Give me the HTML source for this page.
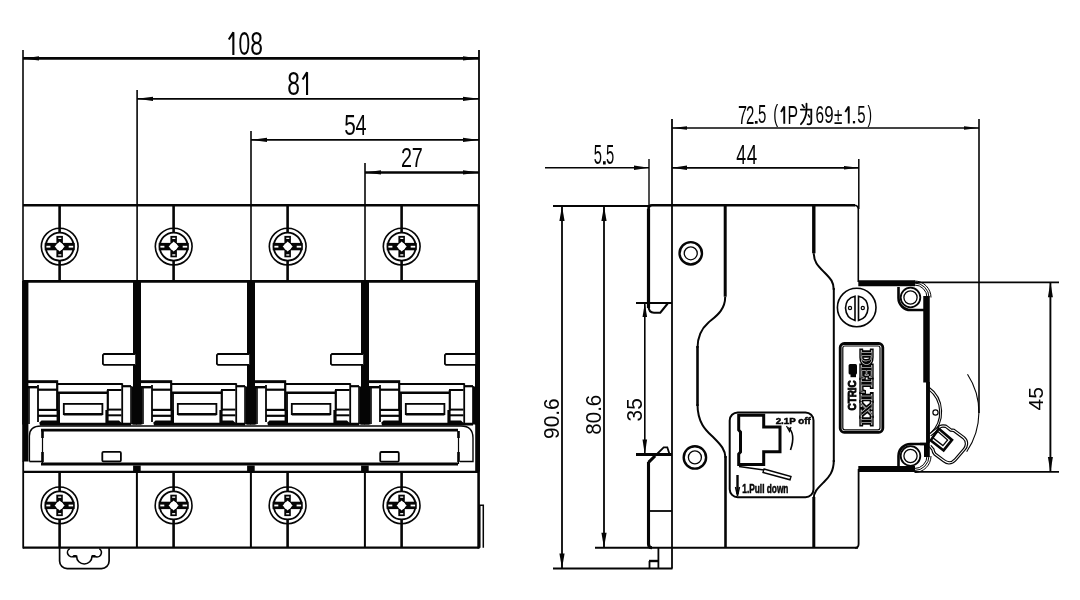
<!DOCTYPE html>
<html><head><meta charset="utf-8"><style>
html,body{margin:0;padding:0;background:#fff;overflow:hidden}
svg{display:block}
#dr{filter:grayscale(1)}

</style></head><body>
<svg id="dr" font-family="Liberation Sans" width="1080" height="600" viewBox="0 0 1080 600">
<rect width="1080" height="600" fill="#fff"/>
<g stroke="#080404" fill="none"><line x1="23" y1="50" x2="23" y2="205" stroke-width="1.6"/><line x1="479" y1="50" x2="479" y2="205" stroke-width="1.8"/><line x1="137.1" y1="90" x2="137.1" y2="205" stroke-width="1.6"/><line x1="251" y1="131" x2="251" y2="205" stroke-width="1.6"/><line x1="365" y1="163" x2="365" y2="205" stroke-width="1.6"/><line x1="23" y1="58.4" x2="479" y2="58.4" stroke-width="2.6"/><line x1="137" y1="98.8" x2="479" y2="98.8" stroke-width="1.7"/><line x1="251" y1="139.9" x2="479" y2="139.9" stroke-width="1.8"/><line x1="365" y1="172.4" x2="479" y2="172.4" stroke-width="2.5"/></g><g fill="#080404"><path d="M23,58.4 L39,56.3 L39,60.5 Z" fill="#080404"/><path d="M479,58.4 L463,56.3 L463,60.5 Z" fill="#080404"/><path d="M137,98.8 L153,96.7 L153,100.89999999999999 Z" fill="#080404"/><path d="M479,98.8 L463,96.7 L463,100.89999999999999 Z" fill="#080404"/><path d="M251,139.9 L267,137.8 L267,142.0 Z" fill="#080404"/><path d="M479,139.9 L463,137.8 L463,142.0 Z" fill="#080404"/><path d="M365,172.4 L381,170.3 L381,174.5 Z" fill="#080404"/><path d="M479,172.4 L463,170.3 L463,174.5 Z" fill="#080404"/></g><g fill="#080404" font-family="Liberation Sans, sans-serif"><path d="M233.35,54.90 L233.35,32.30 L228.80,39.56" fill="none" stroke="#080404" stroke-width="2.1" stroke-linejoin="bevel"/><text transform="translate(238.48,54.58) scale(0.6384,1)" font-size="32.77">0</text><text transform="translate(250.31,54.58) scale(0.6959,1)" font-size="32.77">8</text><text transform="translate(287.31,94.58) scale(0.7019,1)" font-size="32.49">8</text><path d="M307.05,94.90 L307.05,72.30 L302.60,79.56" fill="none" stroke="#080404" stroke-width="2.1" stroke-linejoin="bevel"/><text transform="translate(344.37,134.62) scale(0.7105,1)" font-size="29.09">5</text><text transform="translate(355.54,134.90) scale(0.6596,1)" font-size="30.09">4</text><text transform="translate(401.01,167.20) scale(0.7147,1)" font-size="27.64">2</text><text transform="translate(411.68,167.20) scale(0.7323,1)" font-size="27.04">7</text><text transform="translate(593.66,164.22) scale(0.5216,1)" font-size="28.31">5</text><rect x="603" y="161.2" width="2.7000000000000455" height="3.3000000000000114" fill="#080404"/><text transform="translate(605.91,164.22) scale(0.5216,1)" font-size="28.31">5</text><text transform="translate(736.34,164.00) scale(0.6383,1)" font-size="27.98">4</text><text transform="translate(746.82,164.00) scale(0.6738,1)" font-size="27.98">4</text><text transform="translate(738.07,123.70) scale(0.6400,1)" font-size="25.44">7</text><text transform="translate(745.95,123.70) scale(0.5956,1)" font-size="25.06">2</text><rect x="754.9" y="121" width="2.7000000000000455" height="2.700000000000003" fill="#080404"/><text transform="translate(758.10,123.46) scale(0.5971,1)" font-size="25.08">5</text><text transform="translate(773.29,122.48) scale(0.6315,1)" font-size="23.29">(</text><path d="M784.25,123.70 L784.25,106.60 L781.00,112.04" fill="none" stroke="#080404" stroke-width="1.9" stroke-linejoin="bevel"/><text transform="translate(787.51,123.70) scale(0.6205,1)" font-size="25.44">P</text><text transform="translate(815.42,123.16) scale(0.6371,1)" font-size="24.15">6</text><text transform="translate(824.31,123.16) scale(0.6992,1)" font-size="24.15">9</text><text transform="translate(833.92,123.70) scale(0.6522,1)" font-size="23.35">±</text><path d="M848.75,123.40 L848.75,106.60 L845.30,111.94" fill="none" stroke="#080404" stroke-width="1.9" stroke-linejoin="bevel"/><rect x="852.9" y="121" width="2.2000000000000455" height="2.4000000000000057" fill="#080404"/><text transform="translate(857.30,123.16) scale(0.6110,1)" font-size="24.51">5</text><text transform="translate(867.42,122.48) scale(0.5829,1)" font-size="23.29">)</text><text transform="translate(558.59,438.88) rotate(-90) scale(0.9715,1)" font-size="21.47">90.6</text><text transform="translate(600.89,434.69) rotate(-90) scale(0.9387,1)" font-size="21.89">80.6</text><text transform="translate(641.68,421.39) rotate(-90) scale(0.9232,1)" font-size="22.46">35</text><text transform="translate(1042.70,410.48) rotate(-90) scale(1.0084,1)" font-size="20.92">45</text></g><g stroke="#080404" fill="none" stroke-linecap="round"><path d="M802.3,104.8 L804.2,107.4" stroke-width="1.7"/><path d="M800.8,109.6 L811.3,109.6 L811.3,121.8 Q811.3,124.3 808.8,124.3 L807.5,124.1" stroke-width="1.8"/><path d="M806.5,103.6 L806.5,110 Q806.2,118.5 800.9,124.2" stroke-width="1.8"/><path d="M808.3,114.8 L809.6,117" stroke-width="1.5"/></g><g stroke="#080404" fill="none"><line x1="23" y1="205.3" x2="479" y2="205.3" stroke-width="2.6"/><line x1="23" y1="281.4" x2="479" y2="281.4" stroke-width="2.8"/><line x1="23" y1="205" x2="23" y2="281.4" stroke-width="1.6"/><line x1="478.7" y1="205" x2="478.7" y2="281.4" stroke-width="2.6"/><line x1="137.1" y1="205" x2="137.1" y2="281.4" stroke-width="1.6"/><line x1="251" y1="205" x2="251" y2="281.4" stroke-width="1.6"/><line x1="365" y1="205" x2="365" y2="281.4" stroke-width="1.6"/></g><g stroke="#080404" fill="none"><line x1="59.6" y1="205" x2="59.6" y2="232.6" stroke-width="2.6"/><line x1="59.6" y1="260.6" x2="59.6" y2="281" stroke-width="2.6"/></g><g transform="translate(59.7,246.6)"><circle r="18.4" fill="none" stroke="#080404" stroke-width="1.6"/><circle r="14" fill="none" stroke="#080404" stroke-width="1.8"/><rect x="-3.3" y="-10.7" width="6.5" height="21.4" fill="#080404"/><rect x="-15" y="-3.7" width="30" height="7.4" fill="#080404"/><rect x="-1.4" y="-8.9" width="3" height="1.3" fill="#fff"/><rect x="-1.4" y="7.7" width="3" height="1.3" fill="#fff"/><rect x="-13.3" y="-0.8" width="4" height="1.8" fill="#fff"/><rect x="9" y="-0.8" width="4.5" height="1.8" fill="#fff"/><path d="M0,-5 L2,-3 L3,-2 L5,0 L3,2 L2,3 L0,5 L-2,3 L-3,2 L-5,0 L-3,-2 L-2,-3 Z" fill="#fff"/><circle r="3.6" fill="#fff"/></g><g stroke="#080404" fill="none"><line x1="59.6" y1="471.5" x2="59.6" y2="491.4" stroke-width="2.6"/><line x1="59.6" y1="519.4" x2="59.6" y2="548" stroke-width="2.6"/></g><g transform="translate(59.6,505.4)"><circle r="18.4" fill="none" stroke="#080404" stroke-width="1.6"/><circle r="14" fill="none" stroke="#080404" stroke-width="1.8"/><rect x="-3.3" y="-10.7" width="6.5" height="21.4" fill="#080404"/><rect x="-15" y="-3.7" width="30" height="7.4" fill="#080404"/><rect x="-1.4" y="-8.9" width="3" height="1.3" fill="#fff"/><rect x="-1.4" y="7.7" width="3" height="1.3" fill="#fff"/><rect x="-13.3" y="-0.8" width="4" height="1.8" fill="#fff"/><rect x="9" y="-0.8" width="4.5" height="1.8" fill="#fff"/><path d="M0,-5 L2,-3 L3,-2 L5,0 L3,2 L2,3 L0,5 L-2,3 L-3,2 L-5,0 L-3,-2 L-2,-3 Z" fill="#fff"/><circle r="3.6" fill="#fff"/></g><g stroke="#080404" fill="none"><line x1="173.6" y1="205" x2="173.6" y2="232.6" stroke-width="2.6"/><line x1="173.6" y1="260.6" x2="173.6" y2="281" stroke-width="2.6"/></g><g transform="translate(173.7,246.6)"><circle r="18.4" fill="none" stroke="#080404" stroke-width="1.6"/><circle r="14" fill="none" stroke="#080404" stroke-width="1.8"/><rect x="-3.3" y="-10.7" width="6.5" height="21.4" fill="#080404"/><rect x="-15" y="-3.7" width="30" height="7.4" fill="#080404"/><rect x="-1.4" y="-8.9" width="3" height="1.3" fill="#fff"/><rect x="-1.4" y="7.7" width="3" height="1.3" fill="#fff"/><rect x="-13.3" y="-0.8" width="4" height="1.8" fill="#fff"/><rect x="9" y="-0.8" width="4.5" height="1.8" fill="#fff"/><path d="M0,-5 L2,-3 L3,-2 L5,0 L3,2 L2,3 L0,5 L-2,3 L-3,2 L-5,0 L-3,-2 L-2,-3 Z" fill="#fff"/><circle r="3.6" fill="#fff"/></g><g stroke="#080404" fill="none"><line x1="173.6" y1="471.5" x2="173.6" y2="491.4" stroke-width="2.6"/><line x1="173.6" y1="519.4" x2="173.6" y2="548" stroke-width="2.6"/></g><g transform="translate(173.6,505.4)"><circle r="18.4" fill="none" stroke="#080404" stroke-width="1.6"/><circle r="14" fill="none" stroke="#080404" stroke-width="1.8"/><rect x="-3.3" y="-10.7" width="6.5" height="21.4" fill="#080404"/><rect x="-15" y="-3.7" width="30" height="7.4" fill="#080404"/><rect x="-1.4" y="-8.9" width="3" height="1.3" fill="#fff"/><rect x="-1.4" y="7.7" width="3" height="1.3" fill="#fff"/><rect x="-13.3" y="-0.8" width="4" height="1.8" fill="#fff"/><rect x="9" y="-0.8" width="4.5" height="1.8" fill="#fff"/><path d="M0,-5 L2,-3 L3,-2 L5,0 L3,2 L2,3 L0,5 L-2,3 L-3,2 L-5,0 L-3,-2 L-2,-3 Z" fill="#fff"/><circle r="3.6" fill="#fff"/></g><g stroke="#080404" fill="none"><line x1="287.6" y1="205" x2="287.6" y2="232.6" stroke-width="2.6"/><line x1="287.6" y1="260.6" x2="287.6" y2="281" stroke-width="2.6"/></g><g transform="translate(287.7,246.6)"><circle r="18.4" fill="none" stroke="#080404" stroke-width="1.6"/><circle r="14" fill="none" stroke="#080404" stroke-width="1.8"/><rect x="-3.3" y="-10.7" width="6.5" height="21.4" fill="#080404"/><rect x="-15" y="-3.7" width="30" height="7.4" fill="#080404"/><rect x="-1.4" y="-8.9" width="3" height="1.3" fill="#fff"/><rect x="-1.4" y="7.7" width="3" height="1.3" fill="#fff"/><rect x="-13.3" y="-0.8" width="4" height="1.8" fill="#fff"/><rect x="9" y="-0.8" width="4.5" height="1.8" fill="#fff"/><path d="M0,-5 L2,-3 L3,-2 L5,0 L3,2 L2,3 L0,5 L-2,3 L-3,2 L-5,0 L-3,-2 L-2,-3 Z" fill="#fff"/><circle r="3.6" fill="#fff"/></g><g stroke="#080404" fill="none"><line x1="287.6" y1="471.5" x2="287.6" y2="491.4" stroke-width="2.6"/><line x1="287.6" y1="519.4" x2="287.6" y2="548" stroke-width="2.6"/></g><g transform="translate(287.6,505.4)"><circle r="18.4" fill="none" stroke="#080404" stroke-width="1.6"/><circle r="14" fill="none" stroke="#080404" stroke-width="1.8"/><rect x="-3.3" y="-10.7" width="6.5" height="21.4" fill="#080404"/><rect x="-15" y="-3.7" width="30" height="7.4" fill="#080404"/><rect x="-1.4" y="-8.9" width="3" height="1.3" fill="#fff"/><rect x="-1.4" y="7.7" width="3" height="1.3" fill="#fff"/><rect x="-13.3" y="-0.8" width="4" height="1.8" fill="#fff"/><rect x="9" y="-0.8" width="4.5" height="1.8" fill="#fff"/><path d="M0,-5 L2,-3 L3,-2 L5,0 L3,2 L2,3 L0,5 L-2,3 L-3,2 L-5,0 L-3,-2 L-2,-3 Z" fill="#fff"/><circle r="3.6" fill="#fff"/></g><g stroke="#080404" fill="none"><line x1="401.6" y1="205" x2="401.6" y2="232.6" stroke-width="2.6"/><line x1="401.6" y1="260.6" x2="401.6" y2="281" stroke-width="2.6"/></g><g transform="translate(401.7,246.6)"><circle r="18.4" fill="none" stroke="#080404" stroke-width="1.6"/><circle r="14" fill="none" stroke="#080404" stroke-width="1.8"/><rect x="-3.3" y="-10.7" width="6.5" height="21.4" fill="#080404"/><rect x="-15" y="-3.7" width="30" height="7.4" fill="#080404"/><rect x="-1.4" y="-8.9" width="3" height="1.3" fill="#fff"/><rect x="-1.4" y="7.7" width="3" height="1.3" fill="#fff"/><rect x="-13.3" y="-0.8" width="4" height="1.8" fill="#fff"/><rect x="9" y="-0.8" width="4.5" height="1.8" fill="#fff"/><path d="M0,-5 L2,-3 L3,-2 L5,0 L3,2 L2,3 L0,5 L-2,3 L-3,2 L-5,0 L-3,-2 L-2,-3 Z" fill="#fff"/><circle r="3.6" fill="#fff"/></g><g stroke="#080404" fill="none"><line x1="401.6" y1="471.5" x2="401.6" y2="491.4" stroke-width="2.6"/><line x1="401.6" y1="519.4" x2="401.6" y2="548" stroke-width="2.6"/></g><g transform="translate(401.6,505.4)"><circle r="18.4" fill="none" stroke="#080404" stroke-width="1.6"/><circle r="14" fill="none" stroke="#080404" stroke-width="1.8"/><rect x="-3.3" y="-10.7" width="6.5" height="21.4" fill="#080404"/><rect x="-15" y="-3.7" width="30" height="7.4" fill="#080404"/><rect x="-1.4" y="-8.9" width="3" height="1.3" fill="#fff"/><rect x="-1.4" y="7.7" width="3" height="1.3" fill="#fff"/><rect x="-13.3" y="-0.8" width="4" height="1.8" fill="#fff"/><rect x="9" y="-0.8" width="4.5" height="1.8" fill="#fff"/><path d="M0,-5 L2,-3 L3,-2 L5,0 L3,2 L2,3 L0,5 L-2,3 L-3,2 L-5,0 L-3,-2 L-2,-3 Z" fill="#fff"/><circle r="3.6" fill="#fff"/></g><g id="pole"><g stroke="#080404" fill="none"><rect x="22.2" y="281" width="4.8" height="143.5" fill="#080404" stroke="none"/><rect x="133" y="281" width="4" height="143.5" fill="#080404" stroke="none"/><path d="M135.2,354 L104,354 L102.9,355.1 L102.9,363.8 L104,364.9 L135.2,364.9" fill="#fff" stroke-width="1.8"/><rect x="27" y="380.2" width="31.2" height="2.9" fill="#080404" stroke="none"/><line x1="58" y1="384" x2="122.2" y2="384" stroke-width="1.8"/><line x1="122.2" y1="383.2" x2="122.2" y2="424" stroke-width="1.8"/><line x1="27" y1="387.2" x2="37.5" y2="387.2" stroke-width="2.4"/><line x1="122.2" y1="386.2" x2="131" y2="386.2" stroke-width="2.2"/><line x1="29" y1="387" x2="29" y2="424" stroke-width="1.6"/><line x1="131" y1="386" x2="131" y2="424" stroke-width="1.6"/><line x1="38" y1="385" x2="38" y2="422" stroke-width="1.8"/><line x1="57.2" y1="383" x2="57.2" y2="410" stroke-width="2.2"/><line x1="38" y1="389.7" x2="57" y2="389.7" stroke-width="2.2"/><line x1="38" y1="409.9" x2="57" y2="409.9" stroke-width="2.2"/><line x1="38" y1="415.8" x2="57" y2="415.8" stroke-width="2.2"/><path d="M58.3,410 L58.3,423" stroke-width="3.4"/><line x1="58" y1="392.7" x2="108" y2="392.7" stroke-width="2.6"/><line x1="59" y1="392.7" x2="59" y2="410.5" stroke-width="1.8"/><rect x="63.8" y="403.9" width="38.6" height="10.2" stroke-width="1.8"/><line x1="63.8" y1="414.3" x2="102.4" y2="414.3" stroke-width="2.4"/><line x1="107.8" y1="390" x2="107.8" y2="410.5" stroke-width="2.2"/><line x1="107" y1="390" x2="121.5" y2="390" stroke-width="2"/><line x1="108" y1="409.6" x2="121.5" y2="409.6" stroke-width="2"/><line x1="108" y1="415.3" x2="121.5" y2="415.3" stroke-width="2"/><path d="M107,410 L107,423" stroke-width="3.2"/><line x1="40" y1="424.1" x2="131" y2="424.1" stroke-width="2.8"/><path d="M39.5,424.5 L39.5,422.5 L41.5,420.6 L60,420.6 L60,424.5 Z" fill="#080404" stroke="none"/><path d="M106,424.5 L106,420.6 L119,420.6 L121.5,423 L121.5,424.5 Z" fill="#080404" stroke="none"/></g></g><use href="#pole" x="114" y="0"/><use href="#pole" x="228" y="0"/><use href="#pole" x="342" y="0"/><rect x="475.2" y="281" width="4.8" height="190.5" fill="#080404"/><rect x="22.2" y="281" width="6.2" height="180.5" fill="#080404"/><rect x="131.4" y="386.5" width="11" height="38" fill="#080404"/><rect x="245.4" y="386.5" width="11" height="38" fill="#080404"/><rect x="359.4" y="386.5" width="11" height="38" fill="#080404"/><rect x="472.8" y="386.5" width="7.2" height="38" fill="#080404"/><g stroke="#080404" fill="none"><path d="M29.4,461.5 L29.4,436 Q29.4,426 41,426 L461,426 Q473,426 473,438 L473,461.5 L460,461.5" stroke-width="1.4"/><path d="M29.4,461.5 L42,461.5" stroke-width="1.6"/><line x1="41" y1="430.2" x2="458" y2="430.2" stroke-width="2.8"/><line x1="41" y1="464" x2="458" y2="464" stroke-width="2.8"/><path d="M42.5,431 L42.5,464" stroke-width="1.2"/><path d="M42.5,431 L42.5,438 M42.5,452 L42.5,462" stroke-width="2.6"/><path d="M458.5,431 L458.5,464" stroke-width="1.2"/><path d="M458.5,431 L458.5,438 M458.5,452 L458.5,462" stroke-width="2.6"/><rect x="102.3" y="451.8" width="18.6" height="9.6" rx="1.2" stroke-width="1.8"/><rect x="380.2" y="452" width="18.6" height="9.6" rx="1.2" stroke-width="1.8"/></g><g stroke="#080404" fill="none"><line x1="23" y1="471.8" x2="479" y2="471.8" stroke-width="2.2"/><line x1="23" y1="547.7" x2="479" y2="547.7" stroke-width="2.2"/><line x1="23.2" y1="461" x2="23.2" y2="548.5" stroke-width="1.8"/><line x1="478.6" y1="461" x2="478.6" y2="548.5" stroke-width="2.6"/><line x1="136.9" y1="471" x2="136.9" y2="548" stroke-width="2"/><rect x="133.1" y="465.5" width="7.6" height="6" fill="#080404" stroke="none"/><line x1="250.9" y1="471" x2="250.9" y2="548" stroke-width="2"/><rect x="247.1" y="465.5" width="7.6" height="6" fill="#080404" stroke="none"/><line x1="364.9" y1="471" x2="364.9" y2="548" stroke-width="2"/><rect x="361.09999999999997" y="465.5" width="7.6" height="6" fill="#080404" stroke="none"/><path d="M479.8,547.7 L479.8,505.2 L483.3,505.2 L483.3,547.7" stroke-width="1.5"/><path d="M59.6,548 L59.6,561 A7.6,7.6 0 0 0 67.2,568.6 L101.5,568.6 A7.6,7.6 0 0 0 109.1,561 L109.1,548" stroke-width="1.7"/><path d="M69.8,548.6 A4,4 0 0 0 73.8,556.3 L76.6,556.3 A7.6,7.6 0 0 0 92,556.3 L94.6,556.3 A4,4 0 0 0 99.3,548.6" stroke-width="1.6"/><path d="M73.3,556.3 L76.6,556.3 M92,556.3 L95.3,556.3" stroke-width="2.6"/></g><g stroke="#080404" fill="none"><line x1="545" y1="167.8" x2="649" y2="167.8" stroke-width="1.6"/><line x1="649" y1="159" x2="649" y2="205" stroke-width="1.4"/><line x1="672" y1="119" x2="672" y2="568.5" stroke-width="1.8"/><line x1="672" y1="128" x2="979" y2="128" stroke-width="1.5"/><line x1="979" y1="119" x2="979" y2="413" stroke-width="1.6"/><line x1="672" y1="167.8" x2="859" y2="167.8" stroke-width="1.7"/><line x1="858.8" y1="159" x2="858.8" y2="209" stroke-width="1.5"/><line x1="553" y1="206" x2="649" y2="206" stroke-width="1.8"/><line x1="562" y1="206" x2="562" y2="568.6" stroke-width="1.8"/><line x1="604" y1="206" x2="604" y2="547.8" stroke-width="1.8"/><line x1="595" y1="547.8" x2="858" y2="547.8" stroke-width="2"/><line x1="553" y1="568.6" x2="672.5" y2="568.6" stroke-width="2"/><line x1="636" y1="303" x2="672" y2="303" stroke-width="1.8"/><line x1="644.8" y1="303" x2="644.8" y2="454.5" stroke-width="1.6"/><line x1="636" y1="454.5" x2="672" y2="454.5" stroke-width="2.8"/><line x1="1050.4" y1="282.3" x2="1050.4" y2="472" stroke-width="1.9"/><line x1="915" y1="282.3" x2="1059" y2="282.3" stroke-width="1.8"/><line x1="915" y1="471.8" x2="1059" y2="471.8" stroke-width="1.8"/></g><g fill="#080404"><path d="M649,167.8 L634,165.60000000000002 L634,170.0 Z" fill="#080404"/><path d="M672,167.8 L687,165.60000000000002 L687,170.0 Z" fill="#080404"/><path d="M672,128 L687,126.2 L687,129.8 Z" fill="#080404"/><path d="M979,128 L964,126.2 L964,129.8 Z" fill="#080404"/><path d="M859,167.8 L844,166.0 L844,169.60000000000002 Z" fill="#080404"/><path d="M562,206 L559.4,221 L564.6,221 Z" fill="#080404"/><path d="M604,206 L601.4,221 L606.6,221 Z" fill="#080404"/><path d="M562,568.6 L559.4,553.6 L564.6,553.6 Z" fill="#080404"/><path d="M604,547.8 L601.4,532.8 L606.6,532.8 Z" fill="#080404"/><path d="M644.8,303 L642.5,317 L647.0999999999999,317 Z" fill="#080404"/><path d="M644.8,454.5 L642.5,439.5 L647.0999999999999,439.5 Z" fill="#080404"/><path d="M1050.4,282.3 L1047.9,297.3 L1052.9,297.3 Z" fill="#080404"/><path d="M1050.4,472 L1047.9,457 L1052.9,457 Z" fill="#080404"/></g><g stroke="#080404" fill="none"><path d="M648.5,308 L648.5,209 Q648.5,205.3 652,205.3 L855,205.3" stroke-width="2.6"/><path d="M648.5,308 L648.5,209" stroke-width="3.2"/><path d="M854,205.3 Q858.3,205.3 858.3,209.5 L858.3,282" stroke-width="1.6"/><path d="M648.5,306 Q648.5,312.7 654,312.7 L660.3,312.7 L667.7,303.5" stroke-width="2"/><path d="M648.5,462.3 L655,456 M648.5,462 L648.5,544 Q648.5,547.8 652,547.8" stroke-width="3.1"/><path d="M655,456 L663.7,447.3 L667.3,447.3 L669.3,453.5" stroke-width="1.8"/><path d="M649,561 L658.4,561" stroke-width="2.4"/><path d="M649.5,561 L649.5,568.5 M658.4,548 L658.4,568.5" stroke-width="1.8"/><path d="M858.6,469 L858.6,544 Q858.6,547.8 855,547.8" stroke-width="1.8"/><path d="M858.6,460 L858.6,282" stroke-width="0" /><path d="M648.5,511 L672,511" stroke-width="1.8"/><path d="M725.2,205 L725.2,296.7" stroke-width="3"/><path d="M725.2,296.7 C725.2,312 713,318 708,323 C700,330 697.5,338 697.5,348" stroke-width="2"/><path d="M697.5,346 L697.5,406" stroke-width="2.6"/><path d="M697.5,404 C697.5,425 708,432 714,438 C721,445 725.5,450 725.5,458" stroke-width="2"/><path d="M725.5,456 L725.5,548" stroke-width="2.6"/><path d="M813.8,205 L813.8,253.3" stroke-width="3.4"/><path d="M813.8,253.3 C813.8,262 818,266 824,272 C831,279 833.8,282 833.8,290" stroke-width="2"/><path d="M833.8,288 L833.8,462" stroke-width="2"/><path d="M833.8,460 C833.8,472 829,477 824,482 C817,489 813.8,492 813.8,498" stroke-width="2"/><path d="M813.8,497 L813.8,548" stroke-width="3"/><circle cx="690.75" cy="253.3" r="11.2" stroke-width="2.4"/><circle cx="690.75" cy="253.3" r="6.5" stroke-width="1.3"/><circle cx="694.9" cy="457.4" r="11.2" stroke-width="2.4"/><circle cx="694.9" cy="457.4" r="6.5" stroke-width="1.3"/><rect x="729.7" y="412.4" width="83.8" height="84.8" rx="8" stroke-width="2"/><path d="M738.7,415.2 L763.7,415.2 L763.7,427 L780,427 L780,451.8 L763.7,451.8 L763.7,464.5 L738.7,464.5 L738.7,454 L740.5,452 L740.5,432 L738.7,430 Z" stroke-width="3"/><path d="M788.3,427.5 Q796,434 790.5,450" stroke-width="1.6"/><path d="M786.5,426 L789.5,431.5 L791,427" stroke-width="1.2"/><path d="M739,466.5 L764,470" stroke-width="1.4"/><path d="M764,469 L791,476.5 L790,479.8 L763,472.5 Z" stroke-width="1.4"/><path d="M737.5,475 L737.5,494" stroke-width="2.4"/><path d="M735.5,487 L737.5,496 L739.5,487" stroke-width="1.4"/><rect x="840.2" y="343.5" width="42.6" height="88.8" rx="4" stroke-width="2.8"/><rect x="842.8" y="346" width="37.2" height="83.8" rx="2" stroke-width="1.2"/><text transform="translate(860.83,350.13) rotate(90) scale(1.2379,1)" font-size="17.05" font-weight="bold" font-family="Liberation Serif" fill="#080404" stroke="#080404" stroke-width="3.4">DELIXI</text><text transform="translate(860.83,350.13) rotate(90) scale(1.2379,1)" font-size="17.05" font-weight="bold" font-family="Liberation Serif" fill="none" stroke="#fff" stroke-width="0.4">DELIXI</text><rect x="848.6" y="364" width="8.4" height="10.5" rx="1.5" fill="#080404" stroke="none"/><rect x="850.5" y="374" width="5.5" height="3.2" fill="#080404" stroke="none"/><text transform="translate(856.49,410.41) rotate(-90) scale(0.8528,1)" font-size="11.58" font-weight="bold" fill="#080404" stroke="#080404" stroke-width="0.9">CTRIC</text><text transform="translate(775.66,423.51) scale(1.0259,1)" font-size="9.53" font-weight="bold" fill="#080404" stroke="#080404" stroke-width="0.5">2.1P off</text><text transform="translate(742.28,492.68) scale(0.6946,1)" font-size="11.98" font-weight="bold" fill="#080404" stroke="#080404" stroke-width="0.5">1.Pull down</text><circle cx="856.7" cy="307.5" r="19.3" fill="#fff" stroke-width="1.6"/><path d="M855,296.2 L855,320.5 Q846,318 845.5,308 Q846,298 855,296.2 Z" stroke-width="1.6"/><path d="M858.5,296.2 L858.5,320.5 Q867.5,318 868,308 Q867.5,298 858.5,296.2 Z" stroke-width="1.6"/><circle cx="850" cy="308" r="1.6" stroke-width="1.2"/><circle cx="862.8" cy="308" r="1.6" stroke-width="1.2"/><path d="M858.3,283.3 L915,283.3" stroke-width="6"/><path d="M858.3,469 L915,469" stroke-width="6" /><path d="M926.5,296 L926.5,382.5" stroke-width="6.5"/><path d="M928,382 L928,443" stroke-width="3.6"/><path d="M926.5,443 L926.5,457" stroke-width="5"/><circle cx="910.5" cy="297.5" r="9.8" stroke-width="1.8"/><circle cx="910.5" cy="297.5" r="6.6" stroke-width="1.3"/><circle cx="910.5" cy="456" r="9.8" stroke-width="1.8"/><circle cx="910.5" cy="456" r="6.6" stroke-width="1.3"/><path d="M914.5,285.0 A12.5,12.5 0 0 1 927.0,297.5" stroke-width="1"/><path d="M914.5,468.5 A12.5,12.5 0 0 0 927.0,456" stroke-width="1"/><path d="M914.5,283.0 A14.5,14.5 0 0 1 929.0,297.5" stroke-width="1"/><path d="M914.5,470.5 A14.5,14.5 0 0 0 929.0,456" stroke-width="1"/><path d="M914.5,281.0 A16.5,16.5 0 0 1 931.0,297.5" stroke-width="1"/><path d="M914.5,472.5 A16.5,16.5 0 0 0 931.0,456" stroke-width="1"/><path d="M898.5,287 L898.5,298 A12,12 0 0 0 910.5,310 L926,310" stroke-width="2.6"/><path d="M898.5,466 L898.5,456 A12,12 0 0 1 910.5,444 L926,444" stroke-width="2.6"/><path d="M928.5,386.8 A30.6,30.6 0 0 1 930.5,435.5" stroke-width="1.1"/><path d="M928.5,389.6 A28.6,28.6 0 0 1 930.5,433.3" stroke-width="1.1"/><circle cx="935.5" cy="412.5" r="2.6" stroke-width="1.2"/><path d="M967.5,374.2 A69.6,69.6 0 0 1 966.7,451.7" stroke-width="1.1"/><path d="M930,435 L940.5,426.5 Q942,425.6 945.8,426.25 L950.8,430 L953.75,430.4 L963.8,437.8 Q966.8,440.5 966.5,444 Q966.2,447 964.5,449 L955.5,459.5 Q952.5,462.9 949,462.9 Q946.5,462.6 944,460.8 L935,454.2 Q933.3,452.5 932.9,449.5 L930,446" fill="#fff" stroke="#080404" stroke-width="3.4"/><path d="M930,435 L940.5,426.5 Q942,425.6 945.8,426.25 L950.8,430 L953.75,430.4 L963.8,437.8 Q966.8,440.5 966.5,444 Q966.2,447 964.5,449 L955.5,459.5 Q952.5,462.9 949,462.9 Q946.5,462.6 944,460.8 L935,454.2 Q933.3,452.5 932.9,449.5 L930,446" fill="none" stroke="#fff" stroke-width="1.1"/><path d="M938.6,428.6 L952,439.9 L943.6,450.4 L930.8,440.4 Z" fill="none" stroke="#080404" stroke-width="2.6"/><path d="M937.9,431.6 L947.6,440 L942.9,445.6 L932.6,437.6 Z" fill="none" stroke="#080404" stroke-width="1.3"/><path d="M928,382 L928,457" stroke-width="3.6"/><path d="M920,444 L927,444" stroke-width="2.4"/></g>
</svg></body></html>
